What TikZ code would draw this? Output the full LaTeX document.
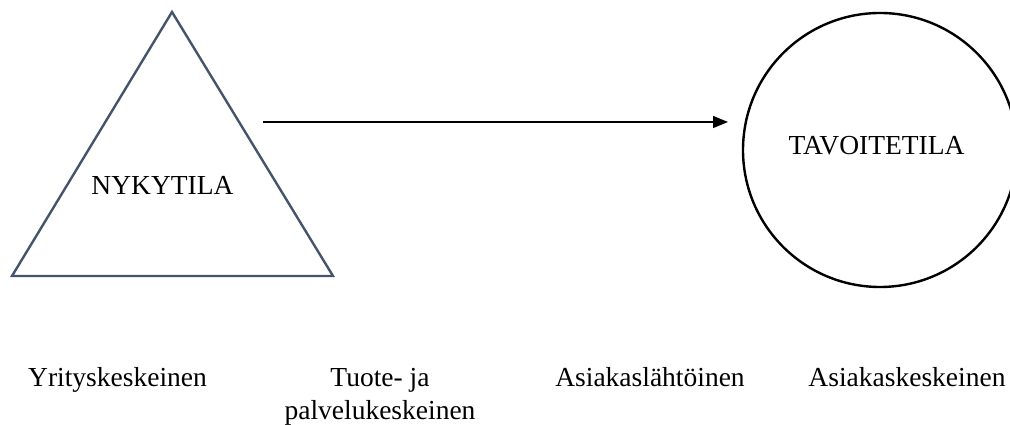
\documentclass[tikz,border=0pt]{standalone}
\usepackage{fontspec}
\setmainfont{Liberation Serif}
\usetikzlibrary{arrows.meta}
\definecolor{slate}{RGB}{68,84,106}
\tikzset{
  x=1pt, y=1pt,
  lbl/.style={inner sep=0pt, anchor=base, font=\fontsize{27.5}{33}\selectfont, text=black},
  stateline/.style={line width=2.4pt},
  flow/.style={line width=1.3pt, -{Triangle[length=15pt,width=12pt]}}
}
\begin{document}
\begin{tikzpicture}
\useasboundingbox (0,0) rectangle (1010,425);
\clip (0,0) rectangle (1010,425);
% current state: triangle
\coordinate (apex) at (172,413);
\coordinate (bl) at (12,149);
\coordinate (br) at (333,149);
\draw[stateline, draw=slate, line join=miter] (apex) -- (bl) -- (br) -- cycle;
\node[lbl] (now) at (162.5,230) {NYKYTILA};
% target state: circle
\node[draw, circle, stateline, minimum size=274pt, inner sep=0pt] (goal) at (880,275) {};
\node[lbl] (goaltext) at (876.5,270) {TAVOITETILA};
% transition arrow
\coordinate (from) at (263,303);
\coordinate (to) at (728,303);
\draw[flow] (from) -- (to);
% stages along the path
\node[lbl] (s1) at (117.5,38) {Yrityskeskeinen};
\node[lbl, align=center] (s2) at (380,5) {Tuote- ja\\palvelukeskeinen};
\node[lbl] (s3) at (650,38) {Asiakaslähtöinen};
\node[lbl] (s4) at (907,38) {Asiakaskeskeinen};
\end{tikzpicture}
\end{document}
